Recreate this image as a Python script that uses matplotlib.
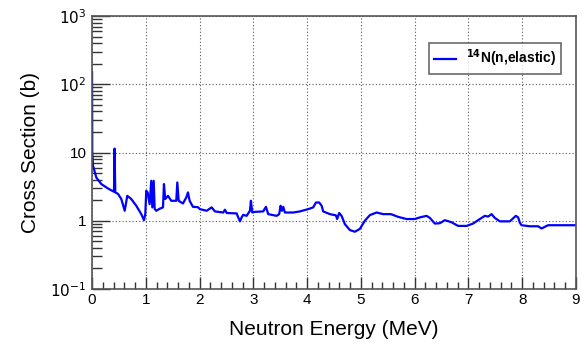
import matplotlib
matplotlib.use("Agg")
import matplotlib.pyplot as plt
from matplotlib.ticker import FixedLocator, FixedFormatter, MultipleLocator, LogLocator, NullFormatter

plt.rcParams['font.family'] = ['Liberation Sans', 'DejaVu Sans']

energy = [0.001, 0.005, 0.019, 0.080, 0.173, 0.297, 0.409, 0.420, 0.433, 0.483, 0.545, 0.608,
          0.656, 0.730, 0.823, 0.916, 0.967, 0.991, 1.009, 1.035, 1.072, 1.102, 1.121, 1.147,
          1.165, 1.195, 1.258, 1.320, 1.338, 1.362, 1.413, 1.474, 1.567, 1.586, 1.612, 1.691,
          1.753, 1.784, 1.816, 1.877, 1.970, 2.007, 2.132, 2.225, 2.286, 2.441, 2.472, 2.504,
          2.690, 2.719, 2.751, 2.782, 2.812, 2.875, 2.937, 2.955, 2.980, 3.030, 3.184, 3.234,
          3.277, 3.433, 3.481, 3.507, 3.532, 3.556, 3.587, 3.742, 3.866, 4.020, 4.113, 4.164,
          4.225, 4.270, 4.299, 4.424, 4.535, 4.559, 4.597, 4.641, 4.703, 4.796, 4.888, 4.981,
          5.074, 5.167, 5.292, 5.414, 5.539, 5.571, 5.693, 5.849, 6.004, 6.097, 6.221, 6.283,
          6.375, 6.468, 6.561, 6.686, 6.808, 6.965, 7.087, 7.212, 7.305, 7.366, 7.429, 7.491,
          7.584, 7.770, 7.881, 7.924, 7.955, 7.987, 8.141, 8.296, 8.359, 8.481, 9.0]
xsec = [150, 10, 6.4, 4.3, 3.45, 2.97, 2.66, 11.4, 2.6, 2.48, 2.08, 1.40,
        2.32, 2.08, 1.66, 1.25, 1.02, 1.25, 2.75, 2.6, 1.75, 3.85, 1.57, 3.85,
        1.5, 1.4, 1.5, 1.57, 3.45, 2.08, 2.32, 1.96, 1.96, 3.64, 1.96, 1.79,
        2.19, 2.6, 1.96, 1.6, 1.58, 1.48, 1.40, 1.57, 1.37, 1.32, 1.45, 1.30,
        1.28, 1.12, 0.98, 1.12, 1.22, 1.18, 1.40, 1.96, 1.32, 1.35, 1.37, 1.6,
        1.25, 1.18, 1.25, 1.66, 1.40, 1.60, 1.32, 1.32, 1.37, 1.48, 1.57, 1.85,
        1.85, 1.66, 1.37, 1.25, 1.20, 1.06, 1.30, 1.18, 0.89, 0.73, 0.69, 0.76,
        1.0, 1.21, 1.32, 1.25, 1.25, 1.24, 1.14, 1.06, 1.06, 1.12, 1.18, 1.10,
        0.91, 0.92, 1.02, 0.95, 0.84, 0.84, 0.91, 1.06, 1.18, 1.15, 1.25, 1.10,
        0.98, 0.98, 1.18, 1.12, 0.94, 0.86, 0.83, 0.83, 0.77, 0.86, 0.86]

y_ticks = [0.1, 1, 10, 100, 1000]
y_labels = ['$10^{-1}$', '1', '10', '$10^{2}$', '$10^{3}$']
x_ticks = [0, 1, 2, 3, 4, 5, 6, 7, 8, 9]

fig = plt.figure(figsize=(5.87, 3.47), dpi=100)
ax = fig.add_axes([92/587, 58/347, 484/587, 273/347])

ax.plot(energy, xsec, color='#0000ff', lw=1.6, label=r'$\mathbf{^{14}}$N(n,elastic)')

ax.set_yscale('log')
ax.set_xlim(0, 9)
ax.set_ylim(0.1, 1000)

ax.yaxis.set_major_locator(FixedLocator(y_ticks))
ax.yaxis.set_major_formatter(FixedFormatter(y_labels))
ax.yaxis.set_minor_locator(LogLocator(base=10, subs=range(2, 10)))
ax.yaxis.set_minor_formatter(NullFormatter())
ax.xaxis.set_major_locator(FixedLocator(x_ticks))
ax.xaxis.set_minor_locator(MultipleLocator(0.2))

ax.grid(True, which='major', color='#555555', linestyle=(0, (1, 2)), lw=0.8)

ax.tick_params(axis='y', which='major', direction='in', length=13, width=1, color='#333333',
               labelsize=11, pad=4, right=False)
ax.tick_params(axis='y', which='minor', direction='in', length=7, width=1, color='#333333', right=False)
ax.tick_params(axis='x', which='major', direction='in', length=9, width=1, color='#333333',
               labelsize=11, pad=3, top=False)
ax.tick_params(axis='x', which='minor', direction='in', length=5, width=1, color='#333333', top=False)

for s in ax.spines.values():
    s.set_color('#555555')
    s.set_linewidth(1.2)

ax.set_xlabel('Neutron Energy (MeV)', fontsize=15, labelpad=9)
ax.set_ylabel('Cross Section (b)', fontsize=15, labelpad=7)

leg = ax.legend(loc='upper right', bbox_to_anchor=(561/587, 1 - 43/347), bbox_transform=fig.transFigure,
                prop={'weight': 'bold', 'size': 10}, frameon=True, fancybox=False,
                handlelength=1.6, borderpad=0.35, handletextpad=0.7, borderaxespad=0)
leg.get_frame().set_edgecolor('#444444')
leg.get_frame().set_linewidth(1.2)

fig.savefig('out.png', dpi=100)
